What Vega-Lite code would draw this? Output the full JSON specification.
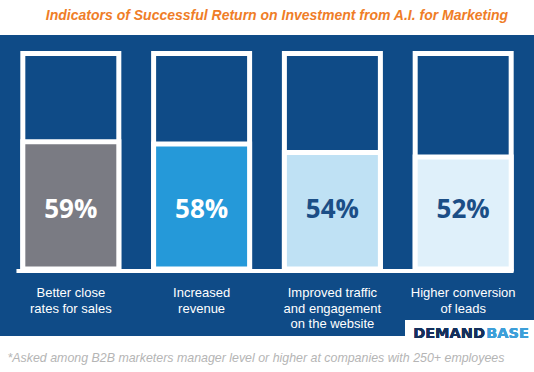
{
  "$schema": "https://vega.github.io/schema/vega-lite/v6.json",
  "width": 534,
  "height": 301,
  "autosize": {"type": "none"},
  "padding": {"top": 35, "bottom": 36, "left": 0, "right": 0},
  "background": "white",
  "title": {
    "text": "Indicators of Successful Return on Investment from A.I. for Marketing",
    "color": "#ef7d27",
    "font": "Liberation Sans",
    "fontSize": 14,
    "fontWeight": "bold",
    "fontStyle": "italic",
    "anchor": "middle",
    "dx": 10,
    "offset": 12
  },
  "data": {
    "values": [
      {"label": "Better close\nrates for sales", "pct": 0.59},
      {"label": "Increased\nrevenue", "pct": 0.58},
      {"label": "Improved traffic\nand engagement\non the website", "pct": 0.54},
      {"label": "Higher conversion\nof leads", "pct": 0.52}
    ]
  },
  "encoding": {
    "x": {
      "field": "label",
      "type": "nominal",
      "sort": null,
      "scale": {
        "domain": ["Better close\nrates for sales", "Increased\nrevenue", "Improved traffic\nand engagement\non the website", "Higher conversion\nof leads"],
        "paddingInner": 0.266,
        "paddingOuter": 0.1745
      },
      "axis": {
        "labels": false,
        "ticks": false,
        "domain": false,
        "grid": false,
        "title": "*Asked among B2B marketers manager level or higher at companies with 250+ employees",
        "titleFont": "Liberation Sans",
        "titleFontStyle": "italic",
        "titleFontWeight": "normal",
        "titleFontSize": 12.4,
        "titleColor": "#b5b5b5",
        "titleAnchor": "start",
        "titleAlign": "left",
        "titleX": 7,
        "titleBaseline": "middle",
        "titleY": 21.5
      }
    }
  },
  "layer": [
    {
      "mark": {"type": "rect", "fill": "#0f4b87", "stroke": "white", "strokeWidth": 5},
      "encoding": {
        "y": {"datum": 1, "type": "quantitative", "scale": {"domain": [-0.3109, 1.0858], "nice": false, "zero": false}, "axis": null},
        "y2": {"datum": 0}
      }
    },
    {
      "mark": {"type": "rect", "stroke": "white", "strokeWidth": 5},
      "encoding": {
        "y": {"field": "pct", "type": "quantitative", "scale": {"domain": [-0.3109, 1.0858], "nice": false, "zero": false}, "axis": null},
        "y2": {"datum": 0},
        "color": {
          "field": "label",
          "type": "nominal",
          "scale": {
            "domain": ["Better close\nrates for sales", "Increased\nrevenue", "Improved traffic\nand engagement\non the website", "Higher conversion\nof leads"],
            "range": ["#7a7b83", "#2599d9", "#bfe1f4", "#dff0fa"]
          },
          "legend": null
        }
      }
    },
    {
      "mark": {"type": "rule", "color": "white", "strokeWidth": 4, "xOffset": -54, "x2Offset": 50, "yOffset": 2},
      "encoding": {
        "x": {"datum": "Better close\nrates for sales", "type": "nominal"},
        "x2": {"datum": "Higher conversion\nof leads"},
        "y": {"datum": 0, "type": "quantitative", "scale": {"domain": [-0.3109, 1.0858], "nice": false, "zero": false}, "axis": null}
      }
    },
    {
      "mark": {"type": "text", "font": "Open Sans", "fontWeight": 700, "fontSize": 26, "baseline": "middle", "align": "center"},
      "encoding": {
        "y": {"datum": 0.2738, "type": "quantitative", "scale": {"domain": [-0.3109, 1.0858], "nice": false, "zero": false}, "axis": null},
        "text": {"field": "pct", "type": "quantitative", "format": ".0%"},
        "color": {
          "field": "label",
          "type": "nominal",
          "scale": {
            "domain": ["Better close\nrates for sales", "Increased\nrevenue", "Improved traffic\nand engagement\non the website", "Higher conversion\nof leads"],
            "range": ["#ffffff", "#ffffff", "#1b4e86", "#1b4e86"]
          },
          "legend": null
        }
      }
    },
    {
      "mark": {"type": "text", "color": "white", "font": "Liberation Sans", "fontSize": 13, "lineHeight": 15.3, "baseline": "top", "align": "center", "lineBreak": "\n"},
      "encoding": {
        "y": {"datum": -0.085, "type": "quantitative", "scale": {"domain": [-0.3109, 1.0858], "nice": false, "zero": false}, "axis": null},
        "text": {"field": "label", "type": "nominal"}
      }
    },
    {
      "mark": {"type": "rect", "fill": "white", "width": 129, "xOffset": 6.5},
      "encoding": {
        "x": {"datum": "Higher conversion\nof leads", "type": "nominal"},
        "y": {"datum": -0.2367, "type": "quantitative", "scale": {"domain": [-0.3109, 1.0858], "nice": false, "zero": false}, "axis": null},
        "y2": {"datum": -0.3109}
      }
    },
    {
      "mark": {"type": "text", "text": "DEMAND", "color": "#14305c", "font": "DejaVu Sans", "fontWeight": "bold", "fontSize": 14.5, "align": "left", "baseline": "middle", "dx": -50},
      "encoding": {
        "x": {"datum": "Higher conversion\nof leads", "type": "nominal"},
        "y": {"datum": -0.301, "type": "quantitative", "scale": {"domain": [-0.3109, 1.0858], "nice": false, "zero": false}, "axis": null}
      }
    },
    {
      "mark": {"type": "text", "text": "BASE", "color": "#3d9fd9", "font": "DejaVu Sans", "fontWeight": "bold", "fontSize": 14.5, "align": "left", "baseline": "middle", "dx": 23},
      "encoding": {
        "x": {"datum": "Higher conversion\nof leads", "type": "nominal"},
        "y": {"datum": -0.301, "type": "quantitative", "scale": {"domain": [-0.3109, 1.0858], "nice": false, "zero": false}, "axis": null}
      }
    }
  ],
  "resolve": {"scale": {"color": "independent"}},
  "config": {
    "view": {"fill": "#0f4b87", "stroke": null},
    "axis": {"grid": false}
  }
}
